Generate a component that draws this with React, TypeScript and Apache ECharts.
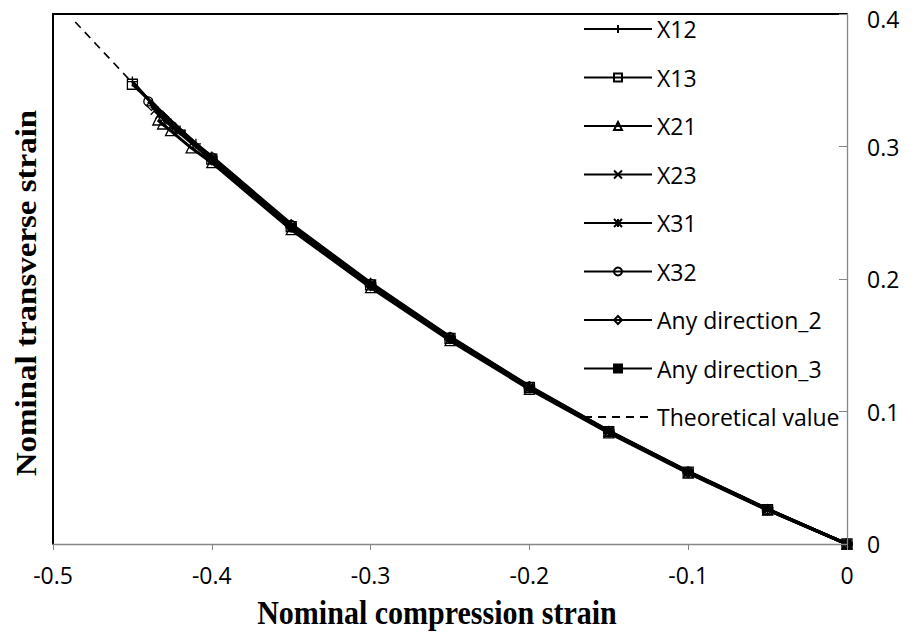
import React, { useEffect, useRef } from "react";
import * as echarts from "echarts";

const xTicks = [-0.5, -0.4, -0.3, -0.2, -0.1, 0];
const yTicks = [0, 0.1, 0.2, 0.3, 0.4];

const baseX = [0, -0.05, -0.1, -0.15, -0.2, -0.25, -0.3, -0.35, -0.4];

const x12Y = [0, 0.0265, 0.0548, 0.0855, 0.1192, 0.1565, 0.1972, 0.2415, 0.2925];
const x12TailX = [-0.41, -0.42, -0.43, -0.45];
const x12TailY = [0.302, 0.312, 0.322, 0.349];

const x13Y = [0, 0.026, 0.0542, 0.0848, 0.1182, 0.1552, 0.1955, 0.2395, 0.2905];
const x13TailX = [-0.45];
const x13TailY = [0.347];

const x21Y = [0, 0.0255, 0.0535, 0.0838, 0.1168, 0.1535, 0.1935, 0.2372, 0.2878];
const x21TailX = [-0.413, -0.426, -0.431, -0.434];
const x21TailY = [0.299, 0.312, 0.317, 0.32];

const x23Y = [0, 0.0262, 0.0545, 0.0851, 0.1186, 0.1558, 0.1962, 0.2404, 0.2914];
const x23TailX = [-0.428, -0.436];
const x23TailY = [0.318, 0.327];

const x31Y = [0, 0.0258, 0.054, 0.0845, 0.1178, 0.1547, 0.1948, 0.2388, 0.2897];
const x31TailX = [-0.425, -0.433];
const x31TailY = [0.315, 0.324];

const x32Y = [0, 0.0263, 0.0546, 0.0852, 0.1188, 0.156, 0.1965, 0.2408, 0.2918];
const x32TailX = [-0.44];
const x32TailY = [0.334];

const ad2Y = [0, 0.0259, 0.0541, 0.0846, 0.118, 0.155, 0.1951, 0.2391, 0.29];
const ad2TailX = [-0.438];
const ad2TailY = [0.331];

const ad3Y = [0, 0.0261, 0.0543, 0.0849, 0.1184, 0.1555, 0.1958, 0.24, 0.291];
const ad3TailX = [-0.42];
const ad3TailY = [0.311];

const theoX = [-0.486, -0.45, -0.4, -0.35, -0.3, -0.25, -0.2, -0.15, -0.1, -0.05, 0];
const theoY = [0.394, 0.348, 0.291, 0.24, 0.195, 0.155, 0.118, 0.085, 0.054, 0.026, 0];

const legendNames = [
  "X12",
  "X13",
  "X21",
  "X23",
  "X31",
  "X32",
  "Any direction_2",
  "Any direction_3",
  "Theoretical value",
];

const pairs = (xs: number[], ys: number[], tx: number[], ty: number[]) => {
  const out: number[][] = xs.map((x, i) => [x, ys[i]]);
  tx.forEach((x, i) => out.push([x, ty[i]]));
  return out;
};

const PLUS = "path://M0,5L10,5M5,0L5,10";
const CROSS = "path://M0,0L10,10M10,0L0,10";
const STAR = "path://M0,0L10,10M10,0L0,10M5,0L5,10";

export default function App() {
  const ref = useRef<HTMLDivElement>(null);
  useEffect(() => {
    if (!ref.current) return;
    const chart = echarts.init(ref.current, undefined, { renderer: "svg" });
    const hollow = { color: "rgba(0,0,0,0)", borderColor: "#000", borderWidth: 1.3 };
    const mk = (name: string, data: number[][], symbol: string, size: any, item: any = hollow, extra: any = {}) => ({
      name,
      type: "line",
      data,
      symbol,
      symbolSize: size,
      showSymbol: true,
      lineStyle: { color: "#000", width: 3 },
      itemStyle: item,
      z: 3,
      ...extra,
    });
    const series: any[] = [
      {
        name: "Theoretical value",
        type: "line",
        data: pairs(theoX, theoY, [], []),
        symbol: "none",
        lineStyle: { color: "#000", width: 1.6, type: [8, 6] },
        itemStyle: { color: "rgba(0,0,0,0)", borderWidth: 0 },
        z: 2,
      },
      mk("X12", pairs(baseX, x12Y, x12TailX, x12TailY), PLUS, 10),
      mk("X13", pairs(baseX, x13Y, x13TailX, x13TailY), "rect", 10),
      mk("X21", pairs(baseX, x21Y, x21TailX, x21TailY), "triangle", 10),
      mk("X23", pairs(baseX, x23Y, x23TailX, x23TailY), CROSS, 8),
      mk("X31", pairs(baseX, x31Y, x31TailX, x31TailY), STAR, 8),
      mk("X32", pairs(baseX, x32Y, x32TailX, x32TailY), "circle", 9),
      mk("Any direction_2", pairs(baseX, ad2Y, ad2TailX, ad2TailY), "diamond", 10),
      mk(
        "Any direction_3",
        pairs(baseX, ad3Y, ad3TailX, ad3TailY),
        "rect",
        [10, 4],
        { color: "#000", borderColor: "#000", borderWidth: 1 }
      ),
    ];
    const fmt = (v: number) => String(Math.round(v * 10) / 10);
    const fmtY = (v: number) => {
      const s = String(Math.round(v * 10) / 10);
      return v >= 0.399 ? "{top|" + s + "}" : s;
    };
    chart.setOption({
      animation: false,
      backgroundColor: "#fff",
      grid: {
        left: 53,
        right: 68,
        top: 14,
        bottom: 97,
        show: false,
      },
      legend: {
        data: legendNames,
        orient: "vertical",
        left: 583,
        top: 17,
        itemWidth: 68,
        itemHeight: 10,
        itemGap: 24.5,
        textStyle: { fontFamily: "Open Sans", fontSize: 23, color: "#000", lineHeight: 24 },
        padding: 0,
      },
      xAxis: [
        {
          type: "value",
          min: xTicks[0],
          max: xTicks[xTicks.length - 1],
          interval: 0.1,
          position: "bottom",
          axisLine: { show: true, onZero: false, lineStyle: { color: "#868686", width: 1.3 } },
          axisTick: { show: true, length: 6, lineStyle: { color: "#868686" } },
          splitLine: { show: false },
          axisLabel: { color: "#000", fontFamily: "Open Sans", fontSize: 23, margin: 19, formatter: fmt },
          z: 5,
        },
        {
          type: "value",
          min: xTicks[0],
          max: xTicks[xTicks.length - 1],
          interval: 0.1,
          position: "top",
          axisLine: { show: true, onZero: false, lineStyle: { color: "#000", width: 2 } },
          axisTick: { show: false },
          axisLabel: { show: false },
          splitLine: { show: false },
        },
      ],
      yAxis: [
        {
          type: "value",
          min: yTicks[0],
          max: yTicks[yTicks.length - 1],
          interval: 0.1,
          position: "right",
          axisLine: { show: true, onZero: false, lineStyle: { color: "#868686", width: 1.3 } },
          axisTick: { show: true, inside: true, length: 8, lineStyle: { color: "#868686" } },
          splitLine: { show: false },
          axisLabel: {
            color: "#000",
            fontFamily: "Open Sans",
            fontSize: 23,
            margin: 20,
            formatter: fmtY,
            rich: {
              top: { fontFamily: "Open Sans", fontSize: 23, color: "#000", padding: [9, 0, 0, 0] },
            },
          },
          z: 5,
        },
        {
          type: "value",
          min: yTicks[0],
          max: yTicks[yTicks.length - 1],
          interval: 0.1,
          position: "left",
          axisLine: { show: true, onZero: false, lineStyle: { color: "#000", width: 2 } },
          axisTick: { show: false },
          axisLabel: { show: false },
          splitLine: { show: false },
        },
      ],
      graphic: [
        {
          type: "text",
          x: 437,
          y: 613,
          scaleX: 0.91,
          style: {
            text: "Nominal compression strain",
            font: "bold 33px 'Liberation Serif'",
            fill: "#000",
            align: "center",
            verticalAlign: "middle",
          },
        },
        {
          type: "text",
          x: 26,
          y: 293,
          rotation: Math.PI / 2,
          scaleY: 0.91,
          style: {
            text: "Nominal transverse strain",
            font: "bold 33px 'Liberation Serif'",
            fill: "#000",
            align: "center",
            verticalAlign: "middle",
          },
        },
      ],
      series,
    });
    return () => chart.dispose();
  }, []);
  return <div ref={ref} style={{ width: 915, height: 641, position: "absolute", left: 0, top: 0 }} />;
}
